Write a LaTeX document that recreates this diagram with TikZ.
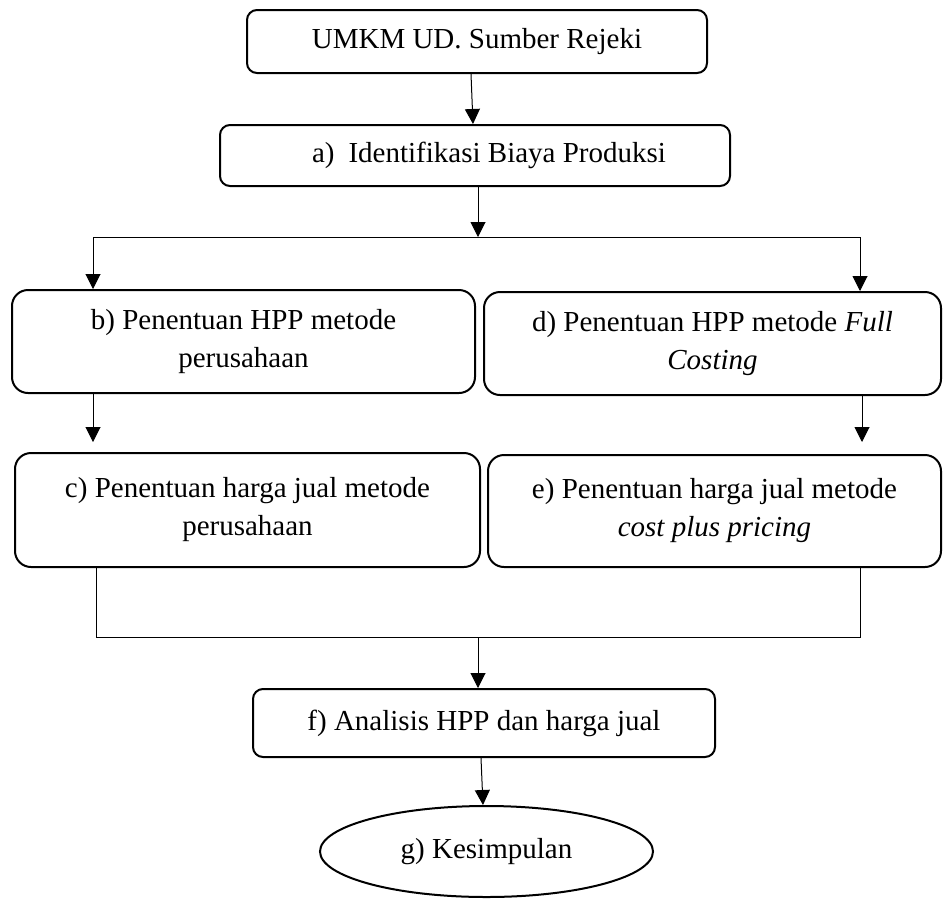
\documentclass[tikz,border=0pt]{standalone}
\usepackage{fontspec}
\setmainfont{Liberation Serif}
\usetikzlibrary{arrows.meta,shapes.geometric}
\begin{document}
\begin{tikzpicture}[x=1pt,y=-1pt,
  txt/.style={font=\fontsize{29}{38}\selectfont},
  box/.style={draw, line width=2pt, rounded corners=10pt, inner sep=0pt, txt, align=center},
  bigbox/.style={box, rounded corners=16pt},
  conn/.style={line width=1pt},
  arr/.style={conn, -{Triangle[length=15pt,width=15pt]}},
]
\useasboundingbox (0,0) rectangle (943,898);
% nodes
\node[box, minimum width=460pt, minimum height=63pt] (umkm) at (477,41.5) {UMKM UD. Sumber Rejeki};
\node[box, minimum width=510pt, minimum height=61pt] (ida) at (475,155.5) {\hspace*{28pt}a)\hspace{14pt}Identifikasi Biaya Produksi};
\node[bigbox, minimum width=463pt, minimum height=103pt] (b) at (243.5,341.5) {b) Penentuan HPP metode\\perusahaan};
\node[bigbox, minimum width=457pt, minimum height=103pt] (d) at (712.5,343.5) {d) Penentuan HPP metode \textit{Full}\\\textit{Costing}};
\node[bigbox, minimum width=465pt, minimum height=114pt] (c) at (247.5,510) {c) Penentuan harga jual metode\\perusahaan};
\node[bigbox, minimum width=453pt, minimum height=112pt] (e) at (714.5,511) {e) Penentuan harga jual metode\\\textit{cost plus pricing}};
\node[box, minimum width=462pt, minimum height=68pt] (f) at (484,723) {f) Analisis HPP dan harga jual};
\node[draw, ellipse, line width=2pt, inner sep=0pt, txt, minimum width=333pt, minimum height=91pt] (g) at (486.5,851.5) {g) Kesimpulan};
% junction coordinates
\coordinate (split) at (478,237);
\coordinate (jl) at (93,237);
\coordinate (jr) at (860,237);
\coordinate (ml) at (96,637);
\coordinate (mr) at (860,637);
\coordinate (merge) at (478,637);
% connectors
\draw[arr] ([xshift=-6pt]umkm.south) -- ([xshift=-2pt]ida.north);
\draw[arr] (ida.south -| split) -- (split);
\draw[conn] (jl) -- (jr);
\draw[arr] (jl) -- (jl |- b.north);
\draw[arr] (jr) -- (jr |- d.north);
\draw[arr, shorten >=10pt] (b.south -| jl) -- (c.north -| jl);
\draw[arr, shorten >=12pt] ([xshift=2pt]d.south -| jr) -- ([xshift=2pt]e.north -| jr);
\draw[conn] (c.south -| ml) -- (ml) -- (mr) -- (e.south -| mr);
\draw[arr] (merge) -- (f.north -| merge);
\draw[arr] ([xshift=-3pt]f.south) -- ([xshift=-3.5pt]g.north);
\end{tikzpicture}
\end{document}
